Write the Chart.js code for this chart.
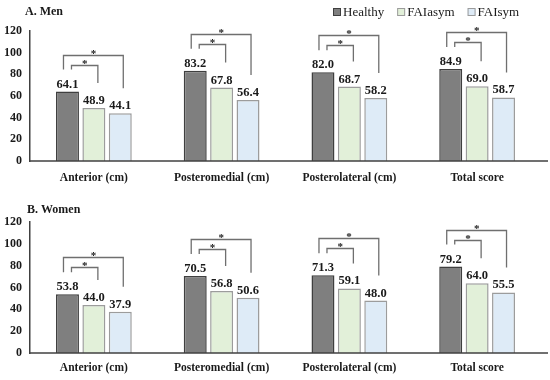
<!DOCTYPE html>
<html lang="en">
<head>
    <meta charset="UTF-8">
    <title>Star excursion balance - Men and Women</title>
    <script src="https://cdn.jsdelivr.net/npm/chart.js"></script>
    <style>
        body { margin: 0; background: #fff; }
        .panel { position: absolute; left: 0; width: 550px; height: 190px; }
    </style>
</head>
<body>
    <div class="panel" style="top:0"><canvas id="menChart" width="550" height="190"></canvas></div>
    <div class="panel" style="top:190px"><canvas id="womenChart" width="550" height="190"></canvas></div>

    <script>
        const categories = ['Anterior (cm)', 'Posteromedial (cm)', 'Posterolateral (cm)', 'Total score'];
        const groupNames = ['Healthy', 'FAIasym', 'FAIsym'];

        const menHealthy = [64.1, 83.2, 82.0, 84.9];
        const menAsym = [48.9, 67.8, 68.7, 69.0];
        const menSym = [44.1, 56.4, 58.2, 58.7];

        const womenHealthy = [53.8, 70.5, 71.3, 79.2];
        const womenAsym = [44.0, 56.8, 59.1, 64.0];
        const womenSym = [37.9, 50.6, 48.0, 55.5];

        const yTicks = [0, 20, 40, 60, 80, 100, 120];

        // significant comparisons (group index pairs), same in every category
        const sigPairs = [[0, 1], [0, 2]];

        const FONT = '"Liberation Serif", "Times New Roman", serif';
        const fillColors = ['#7f7f7f', '#e2f0d9', '#deebf7'];
        const borderColors = ['#3f3f3f', '#9c9c9c', '#9c9c9c'];

        // panel title + (optional) legend, drawn from the datasets
        const headerPlugin = {
            id: 'header',
            afterDraw(chart, args, opts) {
                const ctx = chart.ctx;
                ctx.save();
                ctx.fillStyle = '#1a1a1a';
                ctx.font = 'bold 12px ' + FONT;
                ctx.textBaseline = 'middle';
                ctx.textAlign = 'left';
                ctx.fillText(opts.title, opts.titleX, opts.titleY);

                if (opts.legend) {
                    let x = opts.legendX;
                    const y = opts.titleY;
                    ctx.font = '13px ' + FONT;
                    chart.data.datasets.forEach(ds => {
                        ctx.fillStyle = ds.backgroundColor;
                        ctx.strokeStyle = ds.borderColor;
                        ctx.lineWidth = 1;
                        ctx.fillRect(x, y - 4, 8, 8);
                        ctx.strokeRect(x + 0.5, y - 3.5, 7, 7);
                        ctx.fillStyle = '#1a1a1a';
                        ctx.fillText(ds.label, x + 10, y + 1);
                        x += 10 + ctx.measureText(ds.label).width + 13;
                    });
                }
                ctx.restore();
            }
        };

        // value labels above bars
        const valueLabelPlugin = {
            id: 'valueLabels',
            afterDatasetsDraw(chart) {
                const ctx = chart.ctx;
                ctx.save();
                ctx.font = 'bold 12.5px ' + FONT;
                ctx.fillStyle = '#1a1a1a';
                ctx.textAlign = 'center';
                ctx.textBaseline = 'alphabetic';
                chart.data.datasets.forEach((ds, di) => {
                    chart.getDatasetMeta(di).data.forEach((bar, i) => {
                        ctx.fillText(ds.data[i].toFixed(1), bar.x, bar.y - 4);
                    });
                });
                ctx.restore();
            }
        };

        // significance brackets with asterisks
        const bracketPlugin = {
            id: 'brackets',
            afterDatasetsDraw(chart) {
                const ctx = chart.ctx;
                ctx.save();
                ctx.strokeStyle = '#6f6f6f';
                ctx.lineWidth = 1.3;
                ctx.fillStyle = '#1a1a1a';
                ctx.font = 'bold 11px ' + FONT;
                ctx.textAlign = 'center';
                ctx.textBaseline = 'alphabetic';
                categories.forEach((c, i) => {
                    sigPairs.forEach(([a, b]) => {
                        const from = chart.getDatasetMeta(a).data[i];
                        const to = chart.getDatasetMeta(b).data[i];
                        const outer = b - a > 1;
                        const lineY = Math.round(from.y - (outer ? 37 : 27)) + 0.5;
                        const x1 = from.x + (outer ? -4 : 4);
                        const x2 = to.x + (outer ? 3 : 4);
                        const leftEnd = from.y - 22;
                        const rightEnd = to.y - 25;
                        ctx.beginPath();
                        ctx.moveTo(x1, leftEnd);
                        ctx.lineTo(x1, lineY);
                        ctx.lineTo(x2, lineY);
                        ctx.lineTo(x2, rightEnd);
                        ctx.stroke();
                        ctx.fillText('*', (x1 + x2) / 2, lineY + 1.5);
                    });
                });
                ctx.restore();
            }
        };

        // x axis line runs a bit past the last category
        const axisLinePlugin = {
            id: 'axisLine',
            afterDraw(chart) {
                const ctx = chart.ctx;
                const a = chart.chartArea;
                ctx.save();
                ctx.strokeStyle = '#404040';
                ctx.lineWidth = 1.5;
                ctx.beginPath();
                ctx.moveTo(a.left, a.bottom);
                ctx.lineTo(chart.width - 2, a.bottom);
                ctx.stroke();
                ctx.restore();
            }
        };

        function makeChart(id, title, healthy, asym, sym, opts) {
            const values = [healthy, asym, sym];
            return new Chart(document.getElementById(id), {
                type: 'bar',
                data: {
                    labels: categories,
                    datasets: groupNames.map((name, k) => ({
                        label: name,
                        data: values[k],
                        backgroundColor: fillColors[k],
                        borderColor: borderColors[k],
                        borderWidth: 1.5,
                        categoryPercentage: 0.62,
                        barPercentage: 0.87
                    }))
                },
                options: {
                    responsive: false,
                    animation: false,
                    layout: { padding: { top: opts.top, right: 9, bottom: 0, left: 0 } },
                    plugins: {
                        legend: { display: false },
                        tooltip: { enabled: false },
                        header: {
                            title: title,
                            titleX: opts.titleX,
                            titleY: opts.titleY,
                            legend: opts.legend,
                            legendX: 333
                        }
                    },
                    scales: {
                        x: {
                            grid: { display: false, drawTicks: false },
                            border: { display: false },
                            ticks: {
                                padding: opts.xPad,
                                color: '#1a1a1a',
                                font: { family: FONT, size: 11.5, weight: 'bold', lineHeight: 1.2 }
                            },
                            afterFit(scale) { scale.height = opts.xHeight; }
                        },
                        y: {
                            min: 0,
                            max: 120,
                            grid: { display: false, drawTicks: false },
                            border: { display: true, color: '#404040', width: 1.5 },
                            ticks: {
                                padding: 8,
                                color: '#1a1a1a',
                                font: { family: FONT, size: 12, weight: 'bold' }
                            },
                            afterBuildTicks(scale) { scale.ticks = yTicks.map(v => ({ value: v })); },
                            afterFit(scale) { scale.width = 30; }
                        }
                    }
                },
                plugins: [headerPlugin, valueLabelPlugin, bracketPlugin, axisLinePlugin]
            });
        }

        makeChart('menChart', 'A. Men', menHealthy, menAsym, menSym,
            { top: 31, xHeight: 29, xPad: 10, titleX: 25, titleY: 12, legend: true });
        makeChart('womenChart', 'B. Women', womenHealthy, womenAsym, womenSym,
            { top: 32, xHeight: 27, xPad: 8, titleX: 27, titleY: 20, legend: false });
    </script>
</body>
</html>
